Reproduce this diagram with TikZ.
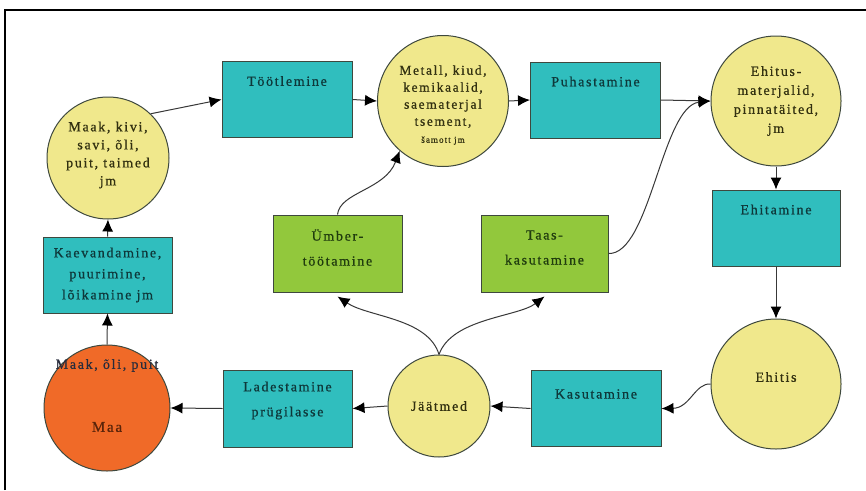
\documentclass[tikz,border=0pt]{standalone}
\usepackage{fontspec}
\setmainfont{Liberation Serif}[LetterSpace=12, FakeBold=0.8]
\usetikzlibrary{arrows.meta}

\definecolor{procfill}{RGB}{48,190,190}
\definecolor{reusefill}{RGB}{146,200,60}
\definecolor{poolfill}{RGB}{240,232,140}
\definecolor{earthfill}{RGB}{240,106,40}
\definecolor{shapeedge}{RGB}{62,72,62}
\definecolor{flowline}{RGB}{56,56,56}
\definecolor{proctext}{RGB}{14,56,58}
\definecolor{pooltext}{RGB}{50,48,16}
\definecolor{reusetext}{RGB}{32,60,14}
\definecolor{earthtext}{RGB}{90,36,10}
\definecolor{sourcetext}{RGB}{40,44,60}

\begin{document}
\begin{tikzpicture}[x=1pt,y=-1pt,
  proc/.style={draw=shapeedge, line width=1pt, fill=procfill,
               minimum width=130pt, minimum height=76pt, inner sep=0pt},
  reuse/.style={proc, fill=reusefill},
  pool/.style={circle, draw=shapeedge, line width=1pt, fill=poolfill, inner sep=0pt},
  flow/.style={draw=flowline, line width=1pt,
               -{Latex[length=12pt,width=11pt,color=black]}},
  txt/.style={align=center, inner sep=0pt, font=\fontsize{14}{18}\selectfont},
]
\useasboundingbox (0,0) rectangle (866,490);
\fill[white] (0,0) rectangle (866,490);

% page frame (left and top edges)
\draw[line width=1.6pt] (5,490) -- (5,10) -- (866,10);

% raw materials and products (circles)
\node[pool, minimum size=122pt] (maak)   at (108,158) {};
\node[pool, minimum size=131pt] (metall) at (443,101) {};
\node[pool, minimum size=130pt] (ehitus) at (776,101) {};
\node[pool, minimum size=130pt] (ehitis) at (776,384) {};
\node[pool, minimum size=102pt] (jaat)   at (439,406) {};
\node[pool, minimum size=126pt, fill=earthfill] (maa) at (107,408) {};

% processes (boxes)
\node[proc] (toot)  at (287,99.5)  {};
\node[proc] (puh)   at (595.5,100) {};
\node[proc, minimum width=128pt] (ehit) at (776,228) {};
\node[proc] (kasut) at (596,408.5) {};
\node[proc, minimum width=129pt, minimum height=77pt] (lad)  at (287.5,408.5) {};
\node[proc, minimum width=129pt] (kaev) at (107.5,275) {};
\node[reuse, minimum width=129pt, minimum height=77pt] (umber) at (337.5,253.5) {};
\node[reuse, minimum width=127pt, minimum height=77pt] (taas)  at (544.5,253.5) {};

% texts of the circles
\node[txt, text=pooltext] (maak-t) at ([yshift=3pt]maak.center)
  {Maak, kivi,\\savi, õli,\\puit, taimed\\jm};
\node[txt, text=pooltext, font=\fontsize{13.5}{17}\selectfont] (metall-t) at ([yshift=-4pt]metall.center)
  {Metall, kiud,\\kemikaalid,\\saematerjal\\tsement,\\{\fontsize{9}{10}\selectfont šamott jm}};
\node[txt, text=pooltext, font=\fontsize{14}{19}\selectfont] (ehitus-t) at (ehitus.center)
  {Ehitus-\\materjalid,\\pinnatäited,\\jm};
\node[txt, text=pooltext] (ehitis-t) at ([yshift=7pt]ehitis.center) {Ehitis};
\node[txt, text=pooltext] (jaat-t) at (jaat.center) {Jäätmed};
\node[txt, text=earthtext, font=\fontsize{15}{18}\selectfont] (maa-t) at ([yshift=-19pt]maa.center) {Maa};
\node[txt, text=sourcetext] (maa-s) at ([yshift=-21pt]maa.north) {Maak, õli, puit};

% texts of the boxes
\node[txt, text=proctext] (toot-t)  at ([yshift=-20pt]toot.north)  {Töötlemine};
\node[txt, text=proctext] (puh-t)   at ([yshift=-20pt]puh.north)   {Puhastamine};
\node[txt, text=proctext] (ehit-t)  at ([yshift=-20pt]ehit.north)  {Ehitamine};
\node[txt, text=proctext] (kasut-t) at ([yshift=-24pt]kasut.north) {Kasutamine};
\node[txt, text=proctext, font=\fontsize{14}{21}\selectfont] (kaev-t) at (kaev.center)
  {Kaevandamine,\\puurimine,\\lõikamine jm};
\node[txt, text=proctext, font=\fontsize{14}{25}\selectfont] (lad-t) at ([yshift=8pt]lad.center)
  {Ladestamine\\prügilasse};
\node[txt, text=reusetext, font=\fontsize{14}{25}\selectfont] (umber-t) at ([yshift=6pt]umber.center)
  {Ümber-\\töötamine};
\node[txt, text=reusetext, font=\fontsize{14}{25}\selectfont] (taas-t) at ([yshift=6pt]taas.center)
  {Taas-\\kasutamine};

% main flow
\draw[flow] (maak.46) -- (toot.west);
\draw[flow] (toot.east) -- (metall.west);
\draw[flow] (metall.east) -- (puh.west);
\draw[flow] (puh.east) -- (ehitus.west);
\draw[flow] (ehitus.south) -- (ehit.north);
\draw[flow] (ehit.south) -- (ehitis.north);
\draw[flow] (ehitis.west) .. controls (695,383) and (690,408) .. (kasut.east);
\draw[flow] (kasut.west) -- (jaat.east);
\draw[flow] (jaat.west) -- (lad.east);
\draw[flow] (lad.west) -- (maa.east);
\draw[flow] (maa.north) -- (kaev.south);
\draw[flow] (kaev.north) -- (maak.south);

% recycling and reuse loops
\draw[flow] (jaat.north) .. controls (428,318) and (368,317) .. ([yshift=-4pt]umber.south);
\draw[flow] (jaat.north) .. controls (452,318) and (518,317) .. ([yshift=-4pt]taas.south);
\draw[flow] (umber.north) .. controls (340,192) and (385,190) .. (metall.229);
\draw[flow] (taas.east) .. controls (650,255) and (662,106) .. (ehitus.west);
\end{tikzpicture}
\end{document}
